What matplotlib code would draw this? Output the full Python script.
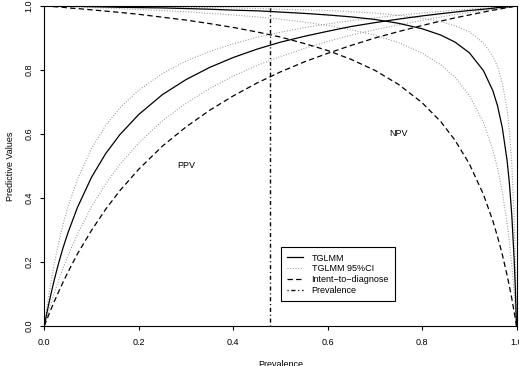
import numpy as np
import matplotlib
matplotlib.use("Agg")
import matplotlib.pyplot as plt
from matplotlib.lines import Line2D

plt.rcParams['font.family'] = ['Liberation Sans', 'DejaVu Sans']

# prevalence grid (x values)
prevalence = [0, 0.0025, 0.005, 0.01, 0.015, 0.02, 0.03, 0.04, 0.05, 0.07, 0.1, 0.13, 0.16,
              0.2, 0.25, 0.3, 0.35, 0.4, 0.45, 0.5, 0.55, 0.6, 0.65, 0.7, 0.75, 0.8, 0.84,
              0.87, 0.9, 0.93, 0.95, 0.96, 0.97, 0.98, 0.985, 0.99, 0.995, 0.9975, 1.0]

# PPV curves
ppv_upper = [0,0.027,0.053,0.102,0.146,0.187,0.258,0.319,0.372,0.458,0.555,0.627,0.682,0.737,0.789,0.828,0.858,0.882,0.902,0.918,0.932,0.944,0.954,0.963,0.971,0.978,0.983,0.987,0.99,0.993,0.995,0.996,0.997,0.998,0.999,0.999,1,1,1]
ppv_tglmm = [0,0.019,0.038,0.073,0.106,0.138,0.195,0.246,0.291,0.37,0.465,0.539,0.598,0.661,0.723,0.77,0.808,0.839,0.865,0.887,0.905,0.921,0.936,0.948,0.959,0.969,0.976,0.981,0.986,0.99,0.993,0.995,0.996,0.997,0.998,0.999,0.999,1,1]
ppv_lower = [0,0.013,0.026,0.051,0.075,0.098,0.142,0.182,0.22,0.287,0.373,0.444,0.505,0.572,0.641,0.696,0.742,0.781,0.814,0.842,0.867,0.889,0.909,0.926,0.941,0.955,0.966,0.973,0.98,0.986,0.99,0.992,0.994,0.996,0.997,0.998,0.999,1,1]
ppv_itd = [0,0.01,0.019,0.037,0.055,0.073,0.106,0.138,0.168,0.225,0.299,0.365,0.423,0.49,0.562,0.622,0.674,0.719,0.759,0.794,0.825,0.852,0.877,0.9,0.92,0.939,0.953,0.963,0.972,0.981,0.987,0.989,0.992,0.995,0.996,0.997,0.999,0.999,1]

# NPV curves
npv_upper = [1,1,1,1,1,1,1,1,0.999,0.999,0.999,0.999,0.998,0.998,0.997,0.996,0.995,0.994,0.992,0.99,0.988,0.986,0.982,0.978,0.971,0.962,0.951,0.938,0.919,0.885,0.843,0.81,0.759,0.676,0.608,0.508,0.339,0.204,0]
npv_tglmm = [1,1,1,1,1,1,0.999,0.999,0.999,0.999,0.998,0.997,0.996,0.995,0.994,0.992,0.99,0.987,0.985,0.981,0.977,0.972,0.966,0.958,0.946,0.929,0.909,0.887,0.854,0.798,0.735,0.687,0.619,0.518,0.445,0.347,0.209,0.117,0]
npv_lower = [1,1,1,1,0.999,0.999,0.999,0.998,0.998,0.997,0.995,0.994,0.992,0.989,0.986,0.982,0.977,0.972,0.966,0.959,0.95,0.939,0.926,0.909,0.886,0.853,0.816,0.777,0.721,0.636,0.55,0.492,0.418,0.322,0.262,0.19,0.105,0.055,0]
npv_itd = [1,1,0.999,0.999,0.998,0.998,0.997,0.996,0.994,0.992,0.988,0.984,0.98,0.974,0.965,0.956,0.945,0.933,0.919,0.903,0.883,0.861,0.833,0.799,0.755,0.698,0.638,0.58,0.507,0.411,0.328,0.278,0.223,0.159,0.124,0.086,0.044,0.023,0]

prevalence_line = 0.478

legend_labels = ["TGLMM", "TGLMM 95%CI", "Intent\u2212to\u2212diagnose", "Prevalence"]
xticks = [0.0, 0.2, 0.4, 0.6, 0.8, 1.0]
xticklabels = ["0.0", "0.2", "0.4", "0.6", "0.8", "1.0"]
yticks = [0.0, 0.2, 0.4, 0.6, 0.8, 1.0]
yticklabels = ["0.0", "0.2", "0.4", "0.6", "0.8", "1.0"]

FS = 6.5
solid = dict(color='black', lw=0.9, linestyle='-')
dotted = dict(color='#8f8f8f', lw=0.8, linestyle=(0, (0.8, 1.6)))
dashed = dict(color='black', lw=0.9, linestyle=(0, (4.3, 2.6)))
dotdash = dict(color='black', lw=1.0, linestyle=(0, (0.8, 2.0, 2.9, 2.0)))

fig = plt.figure(figsize=(5.19, 3.66), dpi=100)
ax = fig.add_axes([0.0854, 0.1093, 0.9098, 0.8743])

ax.plot(prevalence, ppv_upper, **dotted)
ax.plot(prevalence, ppv_lower, **dotted)
ax.plot(prevalence, npv_upper, **dotted)
ax.plot(prevalence, npv_lower, **dotted)
ax.plot(prevalence, ppv_itd, **dashed)
ax.plot(prevalence, npv_itd, **dashed)
ax.plot(prevalence, ppv_tglmm, **solid)
ax.plot(prevalence, npv_tglmm, **solid)
ax.axvline(prevalence_line, **dotdash)

ax.text(0.3, 0.5, "PPV", fontsize=FS, ha='center', va='center')
ax.text(0.75, 0.6, "NPV", fontsize=FS, ha='center', va='center')

ax.set_xlim(0, 1)
ax.set_ylim(0, 1)
ax.set_xticks(xticks)
ax.set_xticklabels(xticklabels)
ax.set_yticks(yticks)
ax.set_yticklabels(yticklabels, rotation=90, va='center')
ax.tick_params(axis='both', direction='out', length=3.0, width=0.8, labelsize=FS)
ax.tick_params(axis='x', pad=6)
ax.tick_params(axis='y', pad=5)
for sp in ax.spines.values():
    sp.set_linewidth(0.8)
    sp.set_color('black')

ax.set_xlabel("Prevalence", fontsize=FS)
ax.xaxis.set_label_coords(0.5, -0.105)
ax.xaxis.label.set_va('top')
ax.set_ylabel("Predictive Values", fontsize=FS)
ax.yaxis.set_label_coords(-0.063, 0.5)

handles = [Line2D([], [], **solid), Line2D([], [], **dotted),
           Line2D([], [], **dashed), Line2D([], [], **dotdash)]
leg = ax.legend(handles, legend_labels, loc='upper left', bbox_to_anchor=(0.501, 0.246),
                bbox_transform=ax.transAxes, borderaxespad=0, fontsize=FS,
                handlelength=1.8, handletextpad=0.9, labelspacing=0.2,
                borderpad=0.7, fancybox=False, framealpha=1, edgecolor='black')
leg.get_frame().set_linewidth(0.8)

fig.savefig("out.png", dpi=100)
